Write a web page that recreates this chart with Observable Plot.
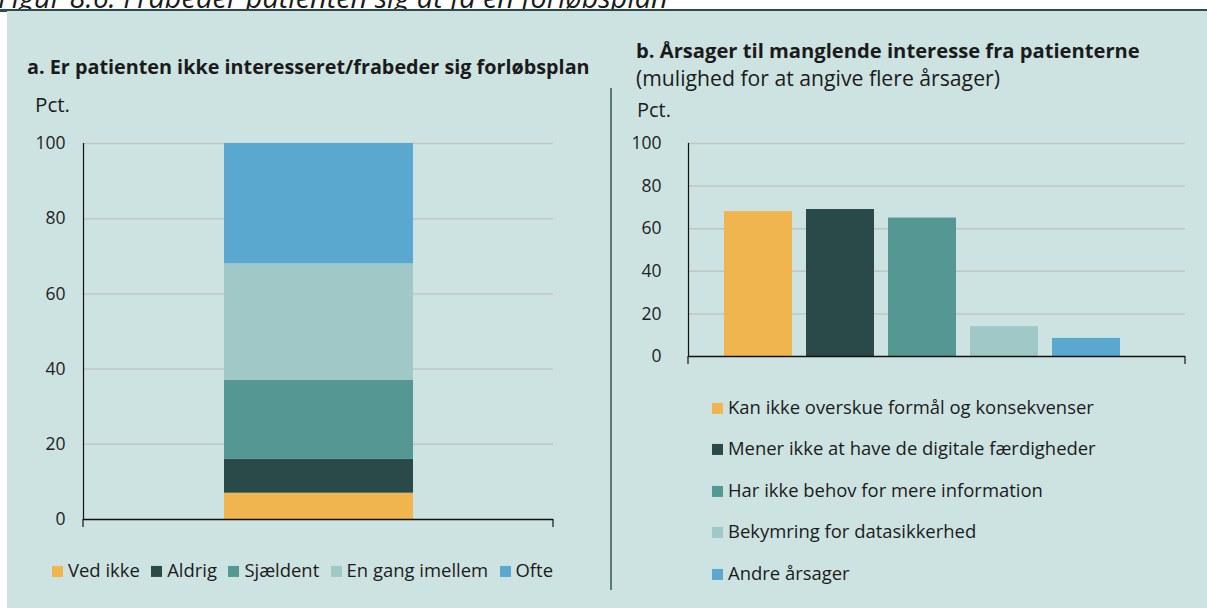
<!DOCTYPE html>
<html>
<head>
<meta charset="utf-8">
<script src="https://cdn.jsdelivr.net/npm/d3@7"></script>
<script src="https://cdn.jsdelivr.net/npm/@observablehq/plot@0.6"></script>
<style>
  html, body { margin: 0; padding: 0; background: #ffffff; }
  #root { position: relative; width: 1207px; height: 612px; overflow: hidden; font-family: "Open Sans", Lato, sans-serif; color: #1b1b1b; }
  .abs { position: absolute; white-space: nowrap; line-height: 1.2; }
  .c { transform: translateY(-50%); }
  .title { font-weight: 700; font-size: 18px; }
  .txt { font-size: 17px; }
  .sw { display: inline-block; width: 11px; height: 11px; margin-right: 5px; vertical-align: middle; position: relative; top: -1px; }
  #legA { display: flex; align-items: center; }
  #legA div { white-space: nowrap; }
  #legB div { position: absolute; left: 0; white-space: nowrap; line-height: 1.2; transform: translateY(-50%); }
</style>
</head>
<body>
<div id="root">
  <div class="abs" id="topTitle" style="left:-2px;top:-20px;font-style:italic;font-size:21px;">Figur 8.6: Frabeder patienten sig at få en forløbsplan</div>
  <div class="abs" style="left:0;top:9px;width:1207px;height:2.5px;background:#2d4c4c;"></div>
  <div class="abs" style="left:7px;top:11px;width:1200px;height:597px;background:#cde3e1;"></div>
  <div class="abs" style="left:610px;top:88px;width:1.5px;height:502px;background:#5d7777;"></div>

  <div class="abs c title" id="titleA" style="left:27px;top:67px;">a. Er patienten ikke interesseret/frabeder sig forløbsplan</div>
  <div class="abs c txt" id="pctA" style="left:35px;top:104px;">Pct.</div>
  <div class="abs" id="chartA" style="left:0;top:130px;"></div>
  <div class="abs c" id="legA" style="left:52px;top:570px;"></div>

  <div class="abs c title" id="titleB" style="left:636px;top:50px;">b. Årsager til manglende interesse fra patienterne</div>
  <div class="abs c txt" id="subB" style="left:636px;top:78px;">(mulighed for at angive flere årsager)</div>
  <div class="abs c txt" id="pctB" style="left:637px;top:110px;">Pct.</div>
  <div class="abs" id="chartB" style="left:600px;top:130px;"></div>
  <div class="abs" id="legB" style="left:712px;top:0;"></div>
</div>
<script>
// ---- Data: panel a (stacked share, pct.) ----
const freqCategories = ["Ved ikke", "Aldrig", "Sjældent", "En gang imellem", "Ofte"];
const freqValues = [7, 9, 21, 31, 32];
const freqColors = ["#f0b54f", "#2a4a4a", "#559793", "#9fc8c7", "#5aa8d0"];

// ---- Data: panel b (reasons, pct.) ----
const reasonCategories = [
  "Kan ikke overskue formål og konsekvenser",
  "Mener ikke at have de digitale færdigheder",
  "Har ikke behov for mere information",
  "Bekymring for datasikkerhed",
  "Andre årsager"
];
const reasonValues = [68, 69, 65, 14, 8.5];
const reasonColors = ["#f0b54f", "#2a4a4a", "#559793", "#9fc8c7", "#5aa8d0"];

const yTicks = [0, 20, 40, 60, 80, 100];
const gridTicks = [20, 40, 60, 80, 100];

function fit(el, target) {
  const w = el.getBoundingClientRect().width;
  const fs = parseFloat(getComputedStyle(el).fontSize);
  const nfs = fs * target / w;
  el.style.fontSize = nfs + "px";
  return nfs;
}
fit(document.getElementById("topTitle"), 670);
fit(document.getElementById("titleA"), 563);
fit(document.getElementById("titleB"), 504);
fit(document.getElementById("subB"), 364);
fit(document.getElementById("pctA"), 35);
fit(document.getElementById("pctB"), 34);

const font = { fontFamily: "'Open Sans', Lato, sans-serif", fontSize: "17.5px", color: "#222", background: "transparent", overflow: "visible" };

// ---- Panel a ----
const dataA = freqCategories.map((c, i) => ({ group: "Alle", category: c, value: freqValues[i] }));
const A = { width: 600, height: 420, ml: 83, mr: 47, mt: 13, mb: 31 };
const chartA = Plot.plot({
  width: A.width, height: A.height,
  marginLeft: A.ml, marginRight: A.mr, marginTop: A.mt, marginBottom: A.mb,
  style: font,
  x: { type: "band", domain: ["Alle"], padding: 0.4264, axis: null },
  y: { domain: [0, 100], ticks: yTicks, label: null },
  color: { domain: freqCategories, range: freqColors },
  marks: [
    Plot.ruleY(gridTicks, { stroke: "#bfc6c6", strokeWidth: 1.5 }),
    Plot.barY(dataA, Plot.stackY({ x: "group", y: "value", fill: "category" })),
    Plot.axisY({ ticks: yTicks, tickSize: 0, tickPadding: 18, label: null, fontSize: 17.5 }),
    Plot.ruleY([0], { stroke: "#111", strokeWidth: 1.5 }),
    Plot.frame({ anchor: "left", stroke: "#111", strokeWidth: 1.2 })
  ]
});
document.getElementById("chartA").appendChild(chartA);
{
  const s = d3.select(chartA);
  const y0 = A.height - A.mb;
  [A.ml, A.width - A.mr].forEach(x => s.append("line").attr("x1", x).attr("x2", x).attr("y1", y0).attr("y2", y0 + 8).attr("stroke", "#111").attr("stroke-width", 1.2));
}

// ---- Panel b ----
const dataB = reasonCategories.map((c, i) => ({ category: c, value: reasonValues[i] }));
const B = { width: 607, height: 240, ml: 88, mr: 22, mt: 13, mb: 14 };
const chartB = Plot.plot({
  width: B.width, height: B.height,
  marginLeft: B.ml, marginRight: B.mr, marginTop: B.mt, marginBottom: B.mb,
  style: font,
  x: { type: "band", domain: reasonCategories, range: [115, 529], paddingInner: 0.17, paddingOuter: 0.085, axis: null },
  y: { domain: [0, 100], ticks: yTicks, label: null },
  color: { domain: reasonCategories, range: reasonColors },
  marks: [
    Plot.ruleY(gridTicks, { stroke: "#bfc6c6", strokeWidth: 1.5 }),
    Plot.barY(dataB, { x: "category", y: "value", fill: "category" }),
    Plot.axisY({ ticks: yTicks, tickSize: 0, tickPadding: 27, label: null, fontSize: 17.5 }),
    Plot.ruleY([0], { stroke: "#111", strokeWidth: 1.5 }),
    Plot.frame({ anchor: "left", stroke: "#111", strokeWidth: 1.2 })
  ]
});
document.getElementById("chartB").appendChild(chartB);
{
  const s = d3.select(chartB);
  const y0 = B.height - B.mb;
  [B.ml, B.width - B.mr].forEach(x => s.append("line").attr("x1", x).attr("x2", x).attr("y1", y0).attr("y2", y0 + 8).attr("stroke", "#111").attr("stroke-width", 1.2));
}

// legend b
const legB = document.getElementById("legB");
const legBY = [407, 448, 490, 531, 573];
let legFont = 17;
reasonCategories.forEach((c, i) => {
  const d = document.createElement("div");
  d.style.top = legBY[i] + "px";
  d.style.fontSize = legFont + "px";
  d.innerHTML = `<span class="sw" style="background:${reasonColors[i]}"></span><span class="lt">${c}</span>`;
  legB.appendChild(d);
});
{
  const first = legB.querySelector(".lt");
  const w = first.getBoundingClientRect().width;
  legFont = legFont * 366 / w;
  legB.querySelectorAll("div").forEach(d => d.style.fontSize = legFont + "px");
}

// legend a
const legA = document.getElementById("legA");
legA.style.fontSize = legFont + "px";
freqCategories.forEach((c, i) => {
  const d = document.createElement("div");
  d.innerHTML = `<span class="sw" style="background:${freqColors[i]}"></span>${c}`;
  legA.appendChild(d);
});
{
  const items = [...legA.children];
  const sum = d3.sum(items, d => d.getBoundingClientRect().width);
  const gap = (501 - sum) / (items.length - 1);
  legA.style.gap = Math.max(4, gap) + "px";
}
</script>
</body>
</html>
